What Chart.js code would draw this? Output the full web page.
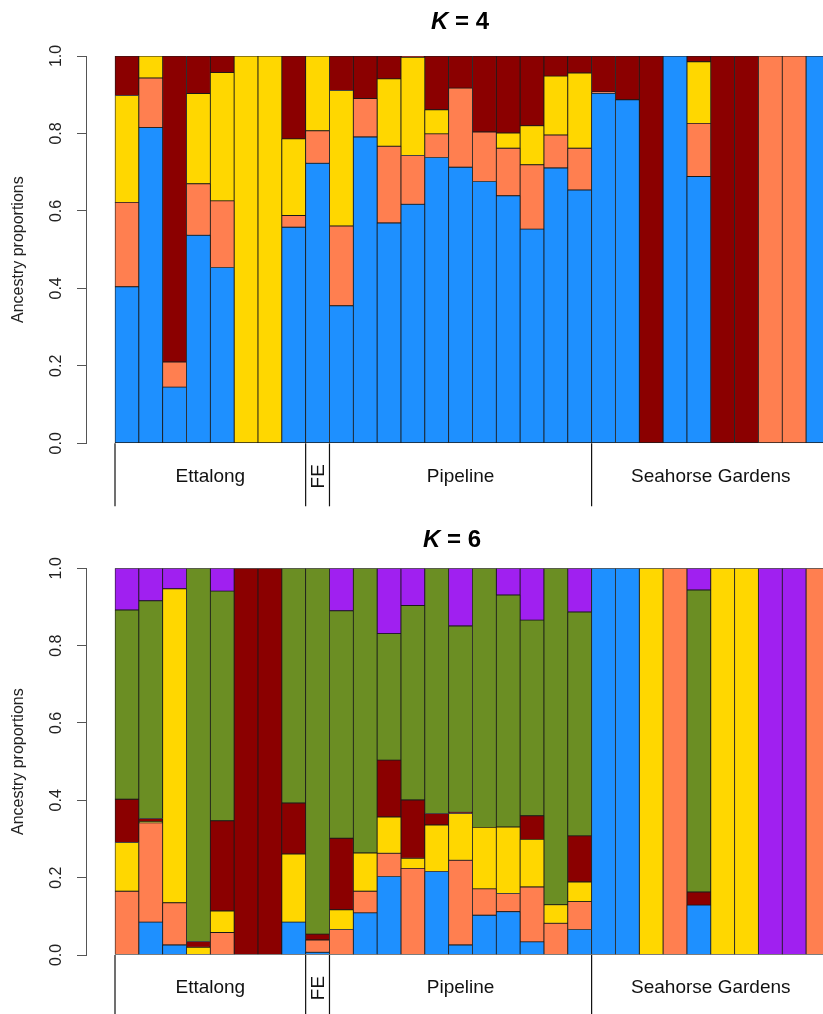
<!DOCTYPE html>
<html><head><meta charset="utf-8">
<script src="https://cdn.jsdelivr.net/npm/chart.js@4.4.1/dist/chart.umd.min.js"></script>
<style>
html,body{margin:0;padding:0;background:#fff;overflow:hidden;width:823px;height:1014px}
#wrap{position:relative;width:823px;height:1014px;overflow:hidden;background:#fff}
canvas{position:absolute;left:0}
</style></head><body>
<div id="wrap">
<canvas id="k4" width="840" height="507" style="top:0px"></canvas>
<canvas id="k6" width="840" height="507" style="top:507px"></canvas>
</div>
<script>
// ---------- data ----------
const individuals = [1,2,3,4,5,6,7,8,9,10,11,12,13,14,15,16,17,18,19,20,21,22,23,24,25,26,27,28,29,30];
const groupNames = ['Ettalong', 'FE', 'Pipeline', 'Seahorse Gardens'];
const groupSizes = [8, 1, 11, 10];
const yTickValues = [0, 0.2, 0.4, 0.6, 0.8, 1.0];

// K = 4 (bottom to top: blue, coral, gold, darkred)
const k4Blue   = [0.404,0.815,0.145,0.537,0.454,0,0,0.558,0.723,0.355,0.791,0.569,0.617,0.738,0.713,0.676,0.639,0.553,0.711,0.654,0.904,0.887,0,1,0.689,0,0,0,0,1];
const k4Coral  = [0.218,0.128,0.065,0.133,0.172,0,0,0.030,0.084,0.206,0.099,0.198,0.126,0.061,0.204,0.128,0.123,0.166,0.085,0.108,0.003,0,0,0,0.137,0,0,1,1,0];
const k4Gold   = [0.276,0.057,0,0.233,0.331,1,1,0.198,0.193,0.350,0,0.174,0.254,0.062,0,0,0.039,0.101,0.152,0.194,0,0,0,0,0.159,0,0,0,0,0];
const k4Red    = [0.102,0,0.790,0.097,0.043,0,0,0.214,0,0.089,0.110,0.059,0.003,0.139,0.083,0.196,0.199,0.180,0.052,0.044,0.093,0.113,1,0,0.015,1,1,0,0,0];

// K = 6 (bottom to top: blue, coral, gold, darkred, olivedrab, purple)
const k6Blue   = [0,0.085,0.026,0,0,0,0,0.085,0.007,0,0.109,0.203,0,0.216,0.026,0.103,0.112,0.034,0,0.066,1,1,0,0,0.129,0,0,0,0,0];
const k6Coral  = [0.165,0.257,0.109,0,0.058,0,0,0,0.032,0.066,0.056,0.060,0.224,0,0.219,0.068,0.047,0.142,0.082,0.072,0,0,0,1,0,0,0,0,0,1];
const k6Gold   = [0.126,0.003,0.812,0.020,0.056,0,0,0.176,0,0.051,0.099,0.094,0.026,0.120,0.121,0.159,0.172,0.123,0.048,0.051,0,0,1,0,0,1,1,0,0,0];
const k6Red    = [0.112,0.008,0,0.015,0.233,1,1,0.132,0.015,0.185,0,0.147,0.151,0.030,0.003,0,0,0.061,0,0.119,0,0,0,0,0.034,0,0,0,0,0];
const k6Green  = [0.489,0.563,0,0.965,0.594,0,0,0.607,0.946,0.588,0.736,0.327,0.503,0.634,0.482,0.670,0.600,0.506,0.870,0.579,0,0,0,0,0.781,0,0,0,0,0];
const k6Purple = [0.108,0.084,0.053,0,0.059,0,0,0,0,0.110,0,0.169,0.096,0,0.149,0,0.069,0.134,0,0.113,0,0,0,0,0.056,0,0,1,1,0];

const colBlue = '#1E90FF', colCoral = '#FF7F50', colGold = '#FFD700',
      colRed = '#8B0000', colGreen = '#6B8E23', colPurple = '#A020F0';

// ---------- helpers ----------
const FONT = '"Liberation Sans", Arial, Helvetica, sans-serif';

function mkDataset(values, color) {
  return {
    data: values.map((v, i) => ({x: individuals[i], y: v})),
    backgroundColor: color,
    borderColor: '#1a1a1a',
    borderWidth: 0.8,
    borderSkipped: false,
    categoryPercentage: 1.0,
    barPercentage: 1.0
  };
}

const decor = {
  id: 'decor',
  afterDraw(chart, args, opts) {
    const {ctx, chartArea} = chart;
    const xs = chart.scales.x;
    ctx.save();
    // panel title: italic K + " = n"
    ctx.fillStyle = '#000';
    ctx.textBaseline = 'middle';
    ctx.textAlign = 'left';
    const f1 = 'italic bold 24px ' + FONT;
    const f2 = 'bold 24px ' + FONT;
    ctx.font = f1; const w1 = ctx.measureText('K').width;
    const rest = ' = ' + opts.k;
    ctx.font = f2; const w2 = ctx.measureText(rest).width;
    const sx = opts.titleX - (w1 + w2) / 2;
    ctx.font = f1; ctx.fillText('K', sx, opts.titleY);
    ctx.font = f2; ctx.fillText(rest, sx + w1, opts.titleY);

    // group separators and labels
    const yb = chartArea.bottom;
    ctx.strokeStyle = '#111';
    ctx.lineWidth = 1.2;
    ctx.fillStyle = '#111';
    ctx.font = '19px ' + FONT;
    let start = 0;
    const edges = [];
    for (let g = 0; g < groupSizes.length; g++) {
      const x0 = xs.getPixelForValue(individuals[start] - 0.5);
      const x1 = xs.getPixelForValue(individuals[start + groupSizes[g] - 1] + 0.5);
      edges.push(x0);
      if (g === groupSizes.length - 1) edges.push(x1);
      const cx = (x0 + x1) / 2, cy = yb + 33;
      if (groupNames[g] === 'FE') {
        ctx.save();
        ctx.translate(cx, cy);
        ctx.rotate(-Math.PI / 2);
        ctx.textAlign = 'center';
        ctx.textBaseline = 'middle';
        ctx.fillText(groupNames[g], 0, 1);
        ctx.restore();
      } else {
        ctx.textAlign = 'center';
        ctx.textBaseline = 'middle';
        ctx.fillText(groupNames[g], cx, cy);
      }
      start += groupSizes[g];
    }
    edges.forEach(ex => {
      ctx.beginPath();
      ctx.moveTo(ex, yb);
      ctx.lineTo(ex, yb + 63);
      ctx.stroke();
    });
    ctx.restore();
  }
};

function makeChart(id, datasets, k, padTop, padBottom, titleX, titleY) {
  return new Chart(document.getElementById(id), {
    type: 'bar',
    data: {datasets},
    plugins: [decor],
    options: {
      responsive: false,
      animation: false,
      devicePixelRatio: 1,
      layout: {padding: {left: 0, right: 0, top: padTop, bottom: padBottom}},
      plugins: {
        legend: {display: false},
        tooltip: {enabled: false},
        title: {display: false},
        decor: {k, titleX, titleY}
      },
      scales: {
        x: {
          type: 'linear',
          stacked: true,
          display: false,
          offset: false,
          grid: {offset: false},
          bounds: 'data',
          min: -0.717,
          max: 30.923
        },
        y: {
          type: 'linear',
          stacked: true,
          min: 0,
          max: 1,
          position: 'left',
          afterFit: (s) => { s.width = 86; },
          afterBuildTicks: (s) => { s.ticks = yTickValues.map(v => ({value: v})); },
          ticks: {
            minRotation: 90,
            maxRotation: 90,
            crossAlign: 'center',
            padding: 9.5,
            color: '#222',
            font: {family: FONT, size: 16},
            callback: (v) => Number(v).toFixed(1)
          },
          grid: {
            drawOnChartArea: false,
            drawTicks: true,
            tickLength: 9,
            color: '#555',
            lineWidth: 1
          },
          border: {display: true, color: '#555', width: 1},
          title: {
            display: true,
            text: 'Ancestry proportions',
            color: '#222',
            font: {family: FONT, size: 16},
            padding: {top: 8.5, bottom: 0}
          }
        }
      }
    }
  });
}

makeChart('k4', [
  mkDataset(k4Blue, colBlue),
  mkDataset(k4Coral, colCoral),
  mkDataset(k4Gold, colGold),
  mkDataset(k4Red, colRed)
], '4', 56, 507 - 443.3, 460, 22);

makeChart('k6', [
  mkDataset(k6Blue, colBlue),
  mkDataset(k6Coral, colCoral),
  mkDataset(k6Gold, colGold),
  mkDataset(k6Red, colRed),
  mkDataset(k6Green, colGreen),
  mkDataset(k6Purple, colPurple)
], '6', 61.3, 507 - (955 - 507), 452, 33);
</script>
</body></html>
